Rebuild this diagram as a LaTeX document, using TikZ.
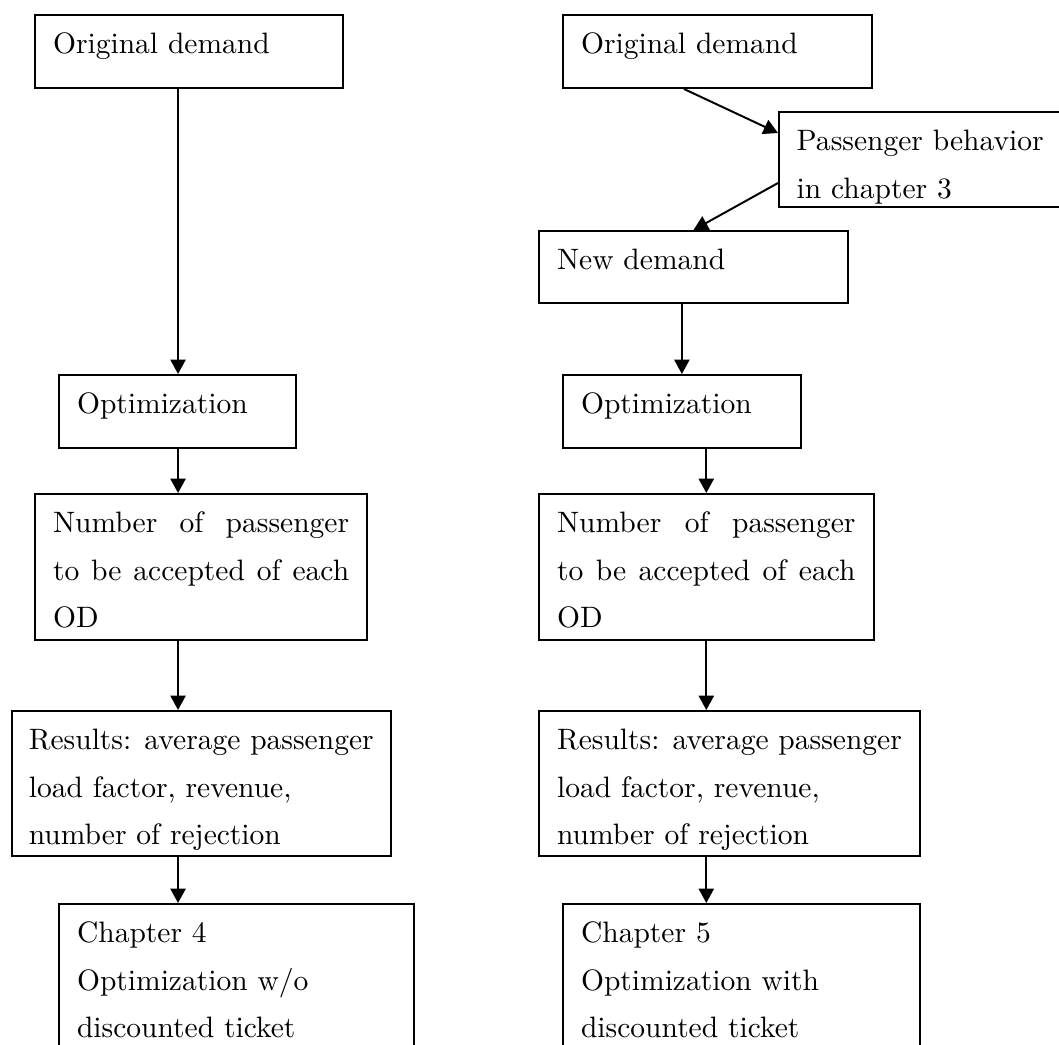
\documentclass[tikz,border=0pt]{standalone}
\usetikzlibrary{arrows.meta}

\tikzset{
  stagebox/.style={draw, line width=0.75pt, anchor=north west, inner xsep=0.225cm, inner ysep=0pt,
                   text height=0.48cm, font=\fontsize{10.5}{17}\selectfont},
  flow/.style={-{Triangle[length=0.18cm,width=0.19cm]}, line width=0.7pt}
}
\newcommand{\boxlines}[2]{\parbox[t]{#1}{\raggedright\baselineskip=0.595cm #2}}
\newcommand{\fullline}[1]{\makebox[\linewidth][s]{#1}}

\begin{document}
\begin{tikzpicture}[x=0.0125cm,y=-0.0125cm]
    \useasboundingbox (0,0) rectangle (1059,1044);

    % left column: without passenger behavior
    \node[stagebox, text depth=0.43cm] (odA) at (34,14) {\boxlines{3.4cm}{Original demand}};
    \node[stagebox, text depth=0.43cm] (optA) at (58,374) {\boxlines{2.51cm}{Optimization}};
    \node[stagebox, text depth=1.345cm] (numA) at (34,493) {\boxlines{3.7cm}{%
        \fullline{Number of passenger}\\\fullline{to be accepted of each}\\OD}};
    \node[stagebox, text depth=1.33cm, inner xsep=0.21cm] (resA) at (11,710) {\boxlines{4.32cm}{%
        Results: average passenger\\load factor, revenue,\\number of rejection}};
    \node[stagebox, text depth=1.5cm] (chA) at (58,903) {\boxlines{3.99cm}{%
        Chapter 4\\Optimization w/o\\discounted ticket}};
    \coordinate (axA) at ([xshift=0.007cm]optA.north);

    % right column: with passenger behavior
    \node[stagebox, text depth=0.43cm] (odB) at (562,14) {\boxlines{3.41cm}{Original demand}};
    \node[stagebox, text depth=0.71cm, inner xsep=0.22cm] (pbB) at (778,111) {\boxlines{3.6cm}{%
        Passenger behavior\\in chapter 3}};
    \node[stagebox, text depth=0.42cm] (ndB) at (538,230) {\boxlines{3.41cm}{New demand}};
    \node[stagebox, text depth=0.43cm] (optB) at (562,374) {\boxlines{2.52cm}{Optimization}};
    \node[stagebox, text depth=1.345cm] (numB) at (538,493) {\boxlines{3.73cm}{%
        \fullline{Number of passenger}\\\fullline{to be accepted of each}\\OD}};
    \node[stagebox, text depth=1.33cm] (resB) at (538,710) {\boxlines{4.31cm}{%
        Results: average passenger\\load factor, revenue,\\number of rejection}};
    \node[stagebox, text depth=1.5cm] (chB) at (562,903) {\boxlines{4.01cm}{%
        Chapter 5\\Optimization with\\discounted ticket}};

    % arrows
    \draw[flow] (axA |- odA.south) -- (axA |- optA.north);
    \draw[flow] (axA |- optA.south) -- (axA |- numA.north);
    \draw[flow] (axA |- numA.south) -- (axA |- resA.north);
    \draw[flow] (axA |- resA.south) -- (axA |- chA.north);

    \draw[flow] ([xshift=-0.42cm]odB.south) -- ([yshift=-0.275cm]pbB.north west);
    \draw[flow] ([yshift=-0.9cm]pbB.north west) -- (ndB.north);
    \draw[flow] (optB.north |- ndB.south) -- (optB.north);
    \draw[flow] (numB.north |- optB.south) -- (numB.north);
    \draw[flow] (numB.south) -- (numB.south |- resB.north);
    \draw[flow] (numB.south |- resB.south) -- (numB.south |- chB.north);
\end{tikzpicture}
\end{document}
